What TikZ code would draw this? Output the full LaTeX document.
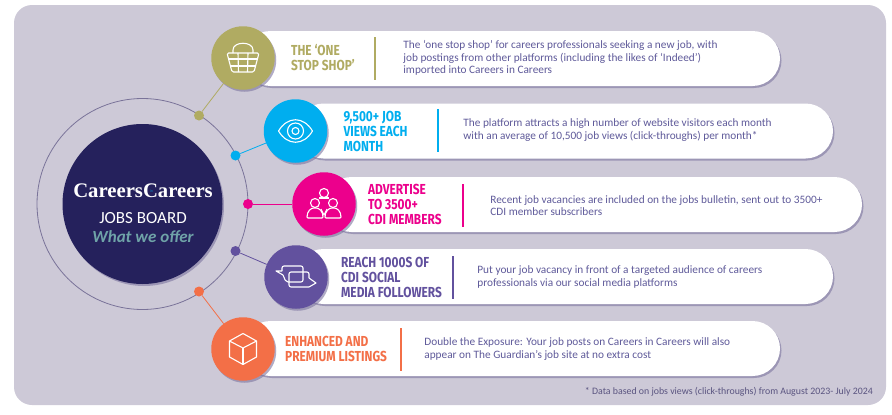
\documentclass[tikz,border=0pt]{standalone}
\usepackage{fontspec}
\usepackage{xcolor}
\setmainfont{Carlito}
\newfontfamily\headfont[FakeStretch=0.82]{Fira Sans}
\newfontfamily\logofont{Liberation Serif}
\usetikzlibrary{positioning, shadows}
\definecolor{panelcol}{HTML}{CDC9D7}
\definecolor{navycol}{HTML}{25215C}
\definecolor{ringcol}{HTML}{7A7399}
\definecolor{shadecol}{HTML}{7C749F}
\definecolor{bodycol}{HTML}{5F5A9A}
\definecolor{notecol}{HTML}{5A5480}
\definecolor{offercol}{HTML}{6FA3A8}
\definecolor{shopcol}{HTML}{B0AB62}
\definecolor{viewscol}{HTML}{00AEEF}
\definecolor{advertcol}{HTML}{EC008C}
\definecolor{reachcol}{HTML}{62519E}
\definecolor{listcol}{HTML}{F36F47}
\tikzset{
    softshade/.style={drop shadow={shadow xshift=1.5pt, shadow yshift=-2pt, fill=shadecol, opacity=.6}},
    pill/.style={fill=white, rounded corners=27.5pt, minimum height=55pt, inner sep=0pt, softshade},
    iconball/.style={circle, minimum size=63.5pt, inner sep=0pt, softshade},
    ringdot/.style={circle, minimum size=10pt, inner sep=0pt},
    linkline/.style={line width=0.8pt},
    rulebar/.style={minimum width=2pt, minimum height=43pt, inner sep=0pt},
    headtxt/.style={align=left, inner sep=0pt, font=\headfont\bfseries\fontsize{14.5}{15}\selectfont},
    bodytxt/.style={align=left, inner sep=0pt, text=bodycol, font=\fontsize{11.3}{12.3}\selectfont},
    iconline/.style={draw=white, line width=1.1pt, line join=round}
}
\begin{document}
\begin{tikzpicture}[x=1pt, y=-1pt]
    \useasboundingbox (0,0) rectangle (892,415);
    \node[fill=panelcol, rounded corners=18pt, minimum width=872pt, minimum height=400pt, inner sep=0pt] (panel) at (450,205) {};

    \node[draw=ringcol, line width=0.8pt, circle, minimum size=211pt, inner sep=0pt] (ring) at (142.5,204) {};
    \node[fill=navycol, circle, minimum size=160pt, inner sep=0pt, softshade] (hub) at (142.5,204) {};
    \node[text=white, inner sep=0pt, font=\logofont\bfseries\fontsize{20.7}{22}\selectfont] (hublogo) at (143,191) {CareersCareers};
    \node[text=viewscol!70!navycol, inner sep=0pt, font=\fontsize{4}{4}\selectfont] (hubin) at (151.5,191) {in};
    \node[text=white, inner sep=0pt, below=14pt of hublogo, font=\fontsize{17}{18}\selectfont] (hubjobs) {JOBS BOARD};
    \node[text=offercol, inner sep=0pt, below=7pt of hubjobs, font=\bfseries\itshape\fontsize{17}{18}\selectfont] (huboffer) {What we offer};

    \node[pill, minimum width=537pt] (shoppill) at (511.5,58.5) {};
    \node[pill, minimum width=537pt] (viewspill) at (564.5,131) {};
    \node[pill, minimum width=538pt] (advertpill) at (593,204.5) {};
    \node[pill, minimum width=537pt] (reachpill) at (564.5,276.5) {};
    \node[pill, minimum width=537pt] (listpill) at (511.5,348.5) {};

    \node[iconball, fill=shopcol] (shopicon) at (243,58) {};
    \node[iconball, fill=viewscol] (viewsicon) at (295.5,131) {};
    \node[iconball, fill=advertcol] (adverticon) at (324,204) {};
    \node[iconball, fill=reachcol] (reachicon) at (296,277) {};
    \node[iconball, fill=listcol] (listicon) at (243,349) {};

    \node[ringdot, fill=shopcol] (shopdot) at (199,115.5) {};
    \node[ringdot, fill=viewscol] (viewsdot) at (235.5,155.5) {};
    \node[ringdot, fill=advertcol] (advertdot) at (248,204) {};
    \node[ringdot, fill=reachcol] (reachdot) at (235.5,251) {};
    \node[ringdot, fill=listcol] (listdot) at (199,291.5) {};

    \draw[linkline, shopcol] (shopdot) -- (shopicon);
    \draw[linkline, viewscol] (viewsdot) -- (viewsicon);
    \draw[linkline, advertcol] (advertdot) -- (adverticon);
    \draw[linkline, reachcol] (reachdot) -- (reachicon);
    \draw[linkline, listcol] (listdot) -- (listicon);

    \node[rulebar, fill=shopcol] (shopbar) at (375,58) {};
    \node[rulebar, fill=viewscol] (viewsbar) at (437.5,130) {};
    \node[rulebar, fill=advertcol] (advertbar) at (463,205.5) {};
    \node[rulebar, fill=reachcol] (reachbar) at (452.5,277) {};
    \node[rulebar, fill=listcol] (listbar) at (400.5,349) {};

    \node[headtxt, text=shopcol, right=16pt of shopicon] (shophead) {THE ‘ONE\\STOP SHOP’};
    \node[headtxt, text=viewscol, right=16pt of viewsicon] (viewshead) {9,500+ JOB\\VIEWS EACH\\MONTH};
    \node[headtxt, text=advertcol, right=12pt of adverticon] (adverthead) {ADVERTISE\\TO 3500+\\CDI MEMBERS};
    \node[headtxt, text=reachcol, right=13pt of reachicon] (reachhead) {REACH 1000S OF\\CDI SOCIAL\\MEDIA FOLLOWERS};
    \node[headtxt, text=listcol, right=10pt of listicon] (listhead) {ENHANCED AND\\PREMIUM LISTINGS};

    \node[bodytxt, right=27pt of shopbar] (shoptext) {The ‘one stop shop’ for careers professionals seeking a new job, with\\job postings from other platforms (including the likes of ‘Indeed’)\\imported into Careers in Careers};
    \node[bodytxt, right=24.5pt of viewsbar] (viewstext) {The platform attracts a high number of website visitors each month\\with an average of 10,500 job views (click-throughs) per month*};
    \node[bodytxt, right=26pt of advertbar] (adverttext) {Recent job vacancies are included on the jobs bulletin, sent out to 3500+\\CDI member subscribers};
    \node[bodytxt, right=23.5pt of reachbar] (reachtext) {Put your job vacancy in front of a targeted audience of careers\\professionals via our social media platforms};
    \node[bodytxt, right=22.5pt of listbar] (listtext) {Double the Exposure: Your job posts on Careers in Careers will also\\appear on The Guardian’s job site at no extra cost};

    \node[anchor=east, inner sep=0pt, text=notecol, font=\fontsize{9.85}{10}\selectfont] (datanote) at (873,392) {* Data based on jobs views (click-throughs) from August 2023- July 2024};

    \begin{scope}[shift={(shopicon.center)}, iconline]
        \draw[rounded corners=1.5pt] (-16,-5) -- (16,-5) -- (11,14) -- (-11,14) -- cycle;
        \draw (-10,-5) -- (-10,-8) .. controls (-10,-17) and (10,-17) .. (10,-8) -- (10,-5);
        \draw (-15,1) -- (15,1);
        \draw (-13,8) -- (13,8);
        \draw (-5,-5) -- (-4.5,14);
        \draw (5,-5) -- (4.5,14);
    \end{scope}
    \begin{scope}[shift={(viewsicon.center)}, iconline]
        \draw (-17,0) .. controls (-8,-15) and (8,-15) .. (17,0) .. controls (8,15) and (-8,15) .. (-17,0) -- cycle;
        \draw (0,0) circle[radius=8pt];
        \draw (0,0) circle[radius=3.5pt];
    \end{scope}
    \begin{scope}[shift={(adverticon.center)}, iconline]
        \draw (0,-11) circle[radius=4.5pt];
        \draw (-9,-1) circle[radius=4.5pt];
        \draw (9,-1) circle[radius=4.5pt];
        \draw (-5,-6) -- (5,-6);
        \draw (-3,5) -- (0,11) -- (3,5);
        \draw[rounded corners=1pt] (-17,14) .. controls (-17,7) and (-13,4) .. (-9,4) .. controls (-5,4) and (-1,7) .. (-1,14) -- cycle;
        \draw[rounded corners=1pt] (17,14) .. controls (17,7) and (13,4) .. (9,4) .. controls (5,4) and (1,7) .. (1,14) -- cycle;
    \end{scope}
    \begin{scope}[shift={(reachicon.center)}, iconline]
        \draw[rounded corners=2pt] (-14,-6) -- (-14,-11) -- (7,-11) -- (7,5) -- (-10,5) -- (-13,-2);
        \draw (-14,-6) -- (-20,-6) -- (-13,-2);
        \draw[rounded corners=2pt] (13,1) -- (13,-5) -- (-7,-5) -- (-7,10) -- (13,10);
        \draw (13,1) -- (20,6) -- (13,10);
    \end{scope}
    \begin{scope}[shift={(listicon.center)}, iconline]
        \draw (0,-15.5) -- (13.5,-8) -- (13.5,8) -- (0,15.5) -- (-13.5,8) -- (-13.5,-8) -- cycle;
        \draw (-13.5,-8) -- (0,-1) -- (13.5,-8);
        \draw (0,-1) -- (0,15.5);
    \end{scope}
\end{tikzpicture}
\end{document}
